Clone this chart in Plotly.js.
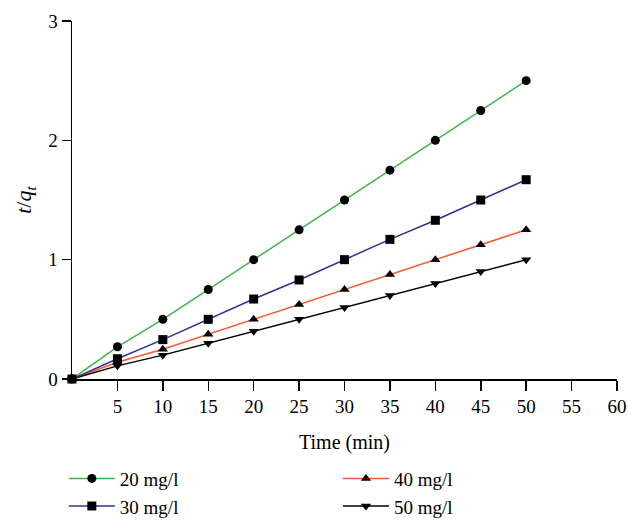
<!DOCTYPE html>
<html>
<head>
<meta charset="utf-8">
<script src="https://cdn.plot.ly/plotly-3.0.1.min.js"></script>
<style>html,body{margin:0;padding:0;background:#fff;}#chart{width:628px;height:521px;}</style>
</head>
<body>
<div id="chart"></div>
<script>
var time = [0, 5, 10, 15, 20, 25, 30, 35, 40, 45, 50];
var c20 = [0, 0.27, 0.50, 0.75, 1.00, 1.25, 1.50, 1.75, 2.00, 2.25, 2.50];
var c30 = [0, 0.17, 0.33, 0.50, 0.67, 0.83, 1.00, 1.17, 1.33, 1.50, 1.67];
var c40 = [0, 0.14, 0.25, 0.375, 0.50, 0.625, 0.75, 0.875, 1.00, 1.125, 1.25];
var c50 = [0, 0.11, 0.20, 0.30, 0.40, 0.50, 0.60, 0.70, 0.80, 0.90, 1.00];
var xTicks = [5, 10, 15, 20, 25, 30, 35, 40, 45, 50, 55, 60];
var yMinorTicks = [0.2, 0.4, 0.6, 0.8, 1.2, 1.4, 1.6, 1.8, 2.2, 2.4, 2.6, 2.8];

var FONT = "Liberation Serif";

function tr(name, y, color, symbol, legend, group) {
  return {
    x: time, y: y, name: name, type: 'scatter', mode: 'lines+markers',
    line: {color: color, width: 1.5},
    marker: {color: '#000', symbol: symbol, size: 9},
    legend: legend, legendgroup: group, cliponaxis: false
  };
}

/* minor y ticks: short horizontal dashes just left of the y axis line,
   on a pixel-scaled helper x axis (x2) so they sit outside the plot area */
var minorTicks = {
  x: yMinorTicks.map(function () { return -2.8; }),
  y: yMinorTicks, xaxis: 'x2', yaxis: 'y',
  type: 'scatter', mode: 'markers', cliponaxis: false,
  marker: {symbol: 'line-ew', size: 5.5, line: {color: '#000', width: 1.5}},
  showlegend: false, hoverinfo: 'skip'
};

var data = [
  tr('20 mg/l', c20, '#3db54a', 'circle', 'legend', 'a'),
  tr('40 mg/l', c40, '#f05a30', 'triangle-up', 'legend2', 'c'),
  tr('50 mg/l', c50, '#000000', 'triangle-down', 'legend2', 'd'),
  tr('30 mg/l', c30, '#2e3192', 'square', 'legend', 'b'),
  minorTicks
];

var legendCommon = {
  orientation: 'v', yanchor: 'top', xanchor: 'left',
  tracegroupgap: 0, traceorder: 'grouped', bgcolor: 'rgba(0,0,0,0)',
  itemwidth: 46, font: {family: FONT, size: 19, color: '#000'}
};

var layout = {
  width: 628, height: 521,
  margin: {l: 72, r: 11, t: 21, b: 142, autoexpand: false},
  paper_bgcolor: '#fff', plot_bgcolor: '#fff',
  font: {family: FONT, size: 19, color: '#000'},
  showlegend: true,
  xaxis: {
    range: [0, 60], tickmode: 'array', tickvals: xTicks, ticktext: xTicks.map(String),
    ticks: 'outside', ticklen: 10, tickwidth: 1.5, tickcolor: '#000',
    showline: true, linecolor: '#000', linewidth: 1.5,
    showgrid: false, zeroline: false,
    tickfont: {family: FONT, size: 19},
    title: {text: 'Time (min)', font: {family: FONT, size: 20}, standoff: 18}
  },
  xaxis2: {
    overlaying: 'x', anchor: 'y', range: [0, 545], visible: false,
    showgrid: false, zeroline: false, fixedrange: true
  },
  yaxis: {
    range: [0, 3], tickmode: 'linear', tick0: 0, dtick: 1,
    ticks: 'outside', ticklen: 9, tickwidth: 1.5, tickcolor: '#000',
    showline: true, linecolor: '#000', linewidth: 1.5,
    showgrid: false, zeroline: false,
    tickfont: {family: FONT, size: 19},
    title: {text: '<i>t</i>/<i>q<sub>t</sub></i>', font: {family: FONT, size: 22}, standoff: 10}
  },
  legend: Object.assign({}, legendCommon, {x: -0.015, y: -0.225}),
  legend2: Object.assign({}, legendCommon, {x: 0.488, y: -0.225})
};

Plotly.newPlot('chart', data, layout, {displayModeBar: false, staticPlot: true});
</script>
</body>
</html>
